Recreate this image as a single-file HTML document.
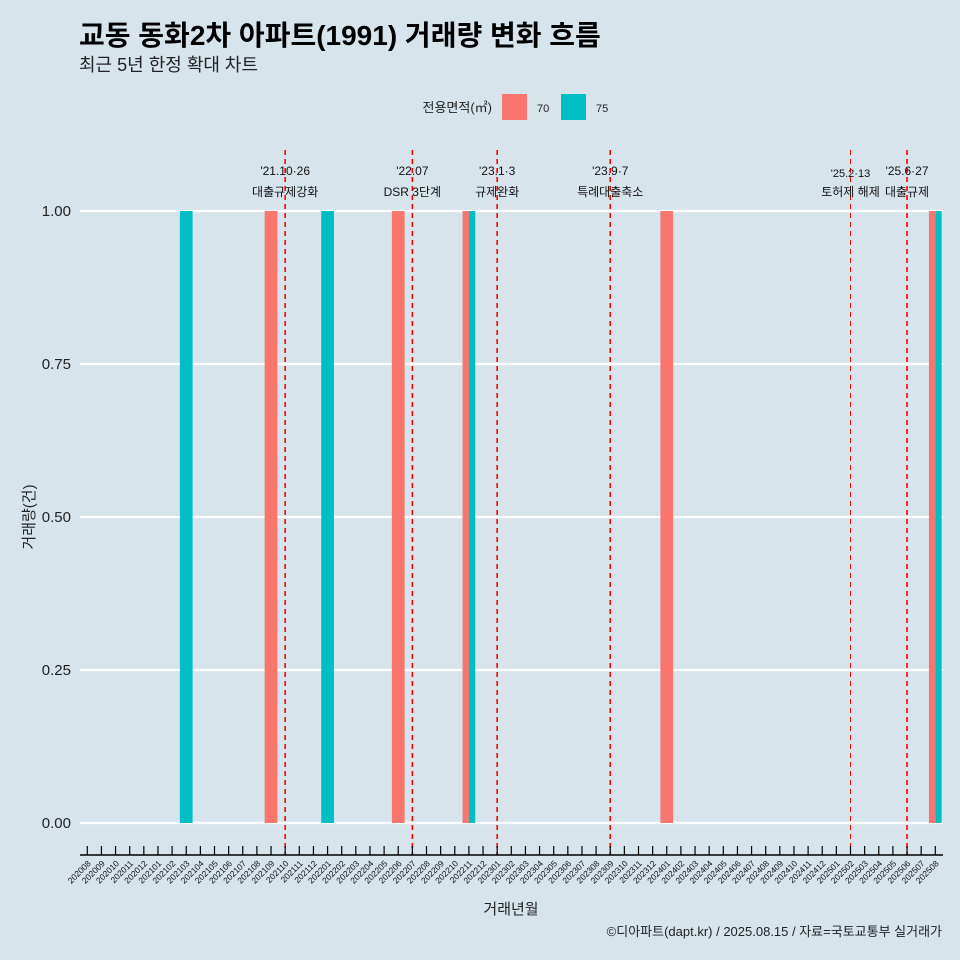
<!DOCTYPE html>
<html><head><meta charset="utf-8">
<style>
html,body{margin:0;padding:0;background:#d7e4ec;}
svg{display:block;font-family:"Liberation Sans","Noto Sans CJK KR",sans-serif;}
</style></head>
<body>
<svg id="chart" width="960" height="960" viewBox="0 0 960 960" xmlns="http://www.w3.org/2000/svg">
<rect width="960" height="960" fill="#d7e4ec"/>
<text x="79" y="45" font-size="28" font-weight="bold" fill="#000">교동 동화2차 아파트(1991) 거래량 변화 흐름</text>
<text x="79" y="71" font-size="18" fill="#222">최근 5년 한정 확대 차트</text>
<g>
<text x="492" y="112" font-size="13" text-anchor="end" fill="#222">전용면적(㎡)</text>
<rect x="502" y="94" width="25" height="26" fill="#f8766d"/>
<text x="537" y="112" font-size="11" fill="#222">70</text>
<rect x="561" y="94" width="25" height="26" fill="#00bfc4"/>
<text x="596" y="112" font-size="11" fill="#222">75</text>
</g>
<g id="grid"></g><g id="bars"></g><g id="vlines"></g><g id="axes"></g>
<text x="511" y="914" font-size="15" text-anchor="middle" fill="#222">거래년월</text>
<text transform="translate(34,517) rotate(-90)" font-size="15" text-anchor="middle" fill="#222">거래량(건)</text>
<text x="942" y="936" font-size="13" text-anchor="end" fill="#222">©디아파트(dapt.kr) / 2025.08.15 / 자료=국토교통부 실거래가</text>
</svg>
<script>
const months = [];
for (let y=2020,m=8; y*100+m<=202508; m++){ if(m>12){m=1;y++;} if(y*100+m>202508)break; months.push(String(y*100+m)); }
const series70Months = ["202109","202206","202211","202401","202508"];
const series70Values = [1,1,1,1,1];
const series75Months = ["202103","202201","202211","202508"];
const series75Values = [1,1,1,1];
const yTicks = [0,0.25,0.5,0.75,1];
const yTickLabels = ["0.00","0.25","0.50","0.75","1.00"];
const eventMonths = ["202110","202207","202301","202309","202502","202506"];
const eventDates = ["'21.10·26","'22.07","'23.1·3","'23.9·7","'25.2·13","'25.6·27"];
const eventNames = ["대출규제강화","DSR 3단계","규제완화","특례대출축소","토허제 해제","대출규제"];

const NS="http://www.w3.org/2000/svg";
const x0=87.3, step=(935.3-87.3)/60;
function xPos(m){return x0+months.indexOf(m)*step;}
function yPos(v){return 823-v*612;}
function el(t,a,p){const e=document.createElementNS(NS,t);for(const k in a)e.setAttribute(k,a[k]);p.appendChild(e);return e;}
const grid=document.getElementById('grid'),bars=document.getElementById('bars'),vl=document.getElementById('vlines'),ax=document.getElementById('axes');
yTicks.forEach((t,i)=>{
  const l=el('line',{x1:80,x2:943,y1:yPos(t),y2:yPos(t),stroke:'#fff','stroke-width':2.2},grid);
  
  
  const tx=el('text',{x:71,y:yPos(t)+5,'font-size':15,'text-anchor':'end',fill:'#222'},ax);
  tx.textContent=yTickLabels[i];
  
  
});
const bw=step*0.9;
function drawBar(m,v,color,name,off,w){
  const r=el('rect',{x:xPos(m)-bw/2+off,y:yPos(v),width:w,height:yPos(0)-yPos(v),fill:color},bars);
  
  
}
series70Months.forEach((m,i)=>{
  const both=series75Months.includes(m);
  drawBar(m,series70Values[i],'#f8766d','bar-70-'+m,0,both?bw/2:bw);
});
series75Months.forEach((m,i)=>{
  const both=series70Months.includes(m);
  drawBar(m,series75Values[i],'#00bfc4','bar-75-'+m,both?bw/2:0,both?bw/2:bw);
});
eventMonths.forEach((m,i)=>{
  const x=xPos(m);
  const thin=m==="202502";
  const l=el('line',{x1:x,x2:x,y1:150,y2:855,stroke:'#ff0000','stroke-width':thin?1:1.6,'stroke-dasharray':'5,4'},vl);
  
  
  const t1=el('text',{x:x,y:thin?177:175,'font-size':thin?11:12,'text-anchor':'middle',fill:'#111'},vl);
  t1.textContent=eventDates[i];
  
  
  const t2=el('text',{x:x,y:196,'font-size':12,'text-anchor':'middle',fill:'#111'},vl);
  t2.textContent=eventNames[i];
  
  
});
const axl=el('line',{x1:80,x2:943,y1:855,y2:855,stroke:'#000','stroke-width':1.5},ax);


months.forEach(m=>{
  const x=xPos(m);
  const tk=el('line',{x1:x,x2:x,y1:846,y2:855,stroke:'#000','stroke-width':1.2},ax);
  
  
  const t=el('text',{x:x+4,y:864,'font-size':8.5,'text-anchor':'end',fill:'#111',transform:`rotate(-45 ${x+4} 864)`},ax);
  t.textContent=m;
  
  
});
</script>
</body></html>
